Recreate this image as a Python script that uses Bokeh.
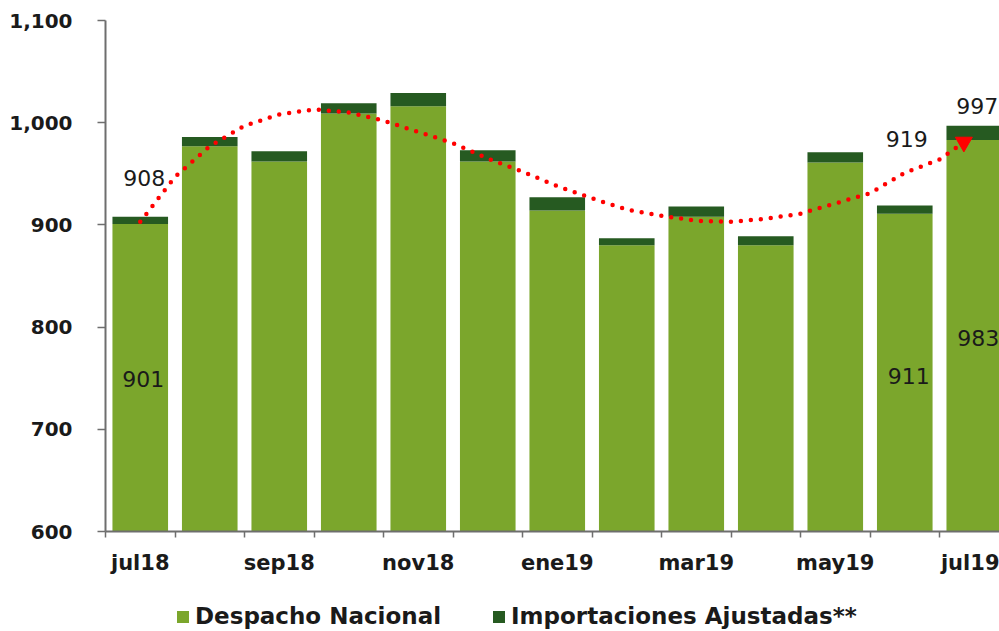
from bokeh.plotting import figure
from bokeh.layouts import column
from bokeh.models import (Range1d, FixedTicker, NumeralTickFormatter, Legend,
                          LegendItem, ColumnDataSource)
from bokeh.core.properties import value
from bokeh.embed import file_html
from bokeh.resources import INLINE

# ---------------- data ----------------
categories = ["jul18", "ago18", "sep18", "oct18", "nov18", "dic18", "ene19",
              "feb19", "mar19", "abr19", "may19", "jun19", "jul19"]
nacional = [901, 977, 962, 1009, 1016, 962, 914, 880, 908, 880, 961, 911, 983]
importaciones = [7, 9, 10, 10, 13, 11, 13, 7, 10, 9, 10, 8, 14]
y_ticks = [600, 700, 800, 900, 1000, 1100]
x_label_idx = [0, 2, 4, 6, 8, 10, 12]

# trend (dotted red curve), read at category positions
trend_x = [0, 0.5, 1, 1.5, 2, 2.5, 3, 3.5, 4, 4.5, 5, 5.5, 6, 6.5, 7, 7.5,
           8, 8.5, 9, 9.5, 10, 10.5, 11, 11.5, 11.85]
trend_y = [903, 947, 977, 997, 1008, 1013, 1010, 1002, 991, 980, 965, 952,
           938, 926, 915, 909, 904, 903, 906, 911, 921, 931, 951, 964, 981]

series_names = ["Despacho Nacional", "Importaciones Ajustadas**"]

# ---------------- styles ----------------
LIGHT = "#7ba62c"
DARK = "#265a21"
RED = "#ff0000"
AXIS = "#6e6e6e"
TXT = "#1a1a1a"
FONT = "DejaVu Sans"

idx = list(range(len(categories)))
total = [n + i for n, i in zip(nacional, importaciones)]

src = ColumnDataSource(dict(x=idx, nacional=nacional, importaciones=importaciones))

p = figure(width=999, height=590,
           x_range=Range1d(-0.5, 12.363), y_range=Range1d(600, 1100),
           output_backend="svg", toolbar_location=None,
           min_border_left=105, min_border_right=0, min_border_top=20,
           min_border_bottom=59)
p.outline_line_color = None
p.grid.visible = False
p.background_fill_color = "white"
p.border_fill_color = "white"

rs = p.vbar_stack(["nacional", "importaciones"], x="x", width=0.8,
                  color=[LIGHT, DARK], line_color=None, source=src)

p.line(trend_x, trend_y, line_color=RED, line_width=4.5, line_dash="0 10",
       line_cap="round")
p.scatter([trend_x[-1]], [trend_y[-1]], marker="inverted_triangle", size=17,
          color=RED)

# data labels: (category index, value, baseline, x_offset, y_offset)
labels = [
    (0, total[0], "bottom", 4, -31),
    (0, nacional[0], "middle", 3, 155),
    (11, total[11], "bottom", 2, -58),
    (11, nacional[11], "middle", 4, 162),
    (12, total[12], "bottom", 3, -12),
    (12, nacional[12], "middle", 4, 198),
]
for (i, v, base, xo, yo) in labels:
    p.text([i], [v], text=[str(v)], text_align="center", text_baseline=base,
           x_offset=xo, y_offset=yo, text_font=value(FONT),
           text_font_size="22px", text_color=TXT)

# y axis
ya = p.yaxis[0]
ya.ticker = FixedTicker(ticks=y_ticks)
ya.formatter = NumeralTickFormatter(format="0,0")
ya.axis_line_color = AXIS
ya.axis_line_width = 2
ya.major_tick_line_color = AXIS
ya.major_tick_line_width = 1.5
ya.major_tick_out = 8
ya.major_tick_in = 0
ya.minor_tick_line_color = None
ya.major_label_standoff = 25
ya.major_label_text_font = FONT
ya.major_label_text_font_style = "bold"
ya.major_label_text_font_size = "20px"
ya.major_label_text_color = TXT

# x axis
xa = p.xaxis[0]
xa.ticker = FixedTicker(ticks=x_label_idx,
                        minor_ticks=[i - 0.5 for i in idx] + [idx[-1] + 0.5])
xa.major_label_overrides = {i: categories[i] for i in x_label_idx}
xa.axis_line_color = AXIS
xa.axis_line_width = 2
xa.major_tick_line_color = None
xa.major_tick_out = 6
xa.major_tick_in = 0
xa.minor_tick_line_color = AXIS
xa.minor_tick_line_width = 1.5
xa.minor_tick_out = 6
xa.minor_tick_in = 0
xa.major_label_standoff = 13
xa.major_label_text_font = FONT
xa.major_label_text_font_style = "bold"
xa.major_label_text_font_size = "21px"
xa.major_label_text_color = TXT

# ---------------- legend strip ----------------
p2 = figure(width=999, height=41, x_range=Range1d(0, 1), y_range=Range1d(0, 1),
            output_backend="svg", toolbar_location=None, min_border=0,
            x_axis_location=None, y_axis_location=None)
p2.grid.visible = False
p2.outline_line_color = None
p2.border_fill_color = "white"
# proxy renderers (kept outside the visible range) for the legend swatches
d1 = p2.vbar(x=[5], top=[5], width=0.1, color=LIGHT, line_color=None)
d2 = p2.vbar(x=[5], top=[5], width=0.1, color=DARK, line_color=None)

legend = Legend(items=[LegendItem(label=series_names[0], renderers=[d1]),
                       LegendItem(label=series_names[1], renderers=[d2])],
                orientation="horizontal", location=(70, 2),
                glyph_width=15, glyph_height=15, label_standoff=5, spacing=50,
                padding=0, margin=0, border_line_color=None,
                background_fill_alpha=0,
                label_text_font=FONT, label_text_font_style="bold",
                label_text_font_size="23px", label_text_color=TXT)
p2.add_layout(legend)

open("out.html", "w").write(file_html(column(p, p2, spacing=0), INLINE))
